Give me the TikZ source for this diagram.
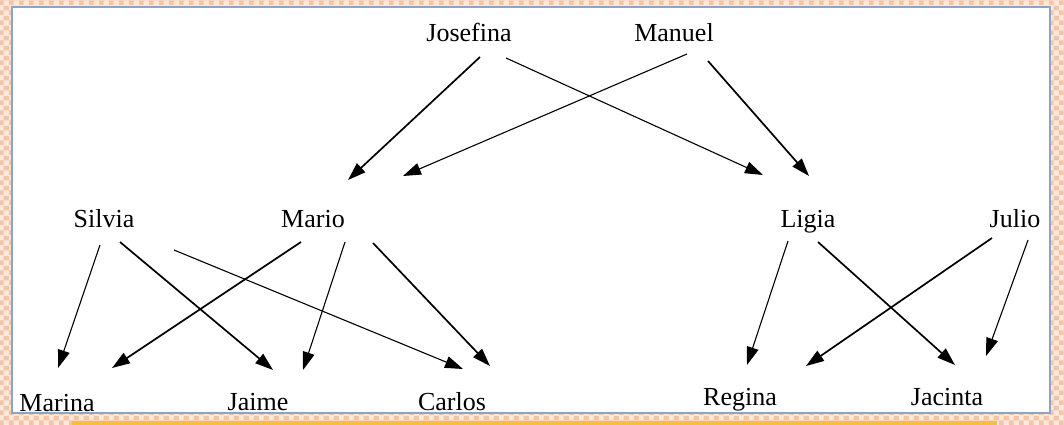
\documentclass[tikz,border=0pt]{standalone}
\usepackage{fontspec}
\setmainfont{Liberation Serif}
\usetikzlibrary{arrows.meta,patterns.meta}
\definecolor{peach}{HTML}{F4C4A6}
\definecolor{peachlight}{HTML}{FCE8DC}
\definecolor{frameblue}{HTML}{8FA3C4}
\definecolor{gold}{HTML}{F5C040}
\tikzdeclarepattern{
  name=peachcheck,
  type=colored,
  bounding box={(0pt,0pt) and (10pt,10pt)},
  tile size={(10pt,10pt)},
  code={
    \fill[peach] (0pt,0pt) rectangle (5pt,5pt);
    \fill[peach] (5pt,5pt) rectangle (10pt,10pt);
  }
}
\begin{document}
\begin{tikzpicture}[x=1pt,y=-1pt,
  person/.style={font=\fontsize{26}{30}\selectfont, anchor=base, inner sep=0pt},
  link/.style={-{Triangle[length=18pt,width=12pt]}, line width=1.1pt},
  boldlink/.style={-{Triangle[length=18pt,width=12pt]}, line width=1.7pt}]
\useasboundingbox (0,0) rectangle (1064,425);
% frame
\fill[peachlight] (0,0) rectangle (1064,425);
\fill[pattern=peachcheck] (0,0) rectangle (1064,425);
\fill[white] (12,7) rectangle (1050,413);
\draw[frameblue, line width=1.2pt] (12,7) rectangle (1050,413);
\fill[gold] (72,421) rectangle (997,425);
% people
\node[person] (Jo) at (469,42) {Josefina};
\node[person] (Ma) at (674,42) {Manuel};
\node[person] (Si) at (104,227) {Silvia};
\node[person] (Mr) at (313,227) {Mario};
\node[person] (Li) at (808,227) {Ligia};
\node[person] (Ju) at (1015,227) {Julio};
\node[person] (Mn) at (57,411) {Marina};
\node[person] (Ja) at (258,410) {Jaime};
\node[person] (Ca) at (452,410) {Carlos};
\node[person] (Re) at (740,405) {Regina};
\node[person] (Jc) at (947,405) {Jacinta};
% links
\draw[boldlink] ([shift={(11,15)}]Jo.base) -- ([shift={(35,-47)}]Mr.base);
\draw[link] ([shift={(37,16)}]Jo.base) -- ([shift={(-45,-52)}]Li.base);
\draw[link] ([shift={(13,12)}]Ma.base) -- ([shift={(90,-51)}]Mr.base);
\draw[boldlink] ([shift={(34,19)}]Ma.base) -- ([shift={(1,-51)}]Li.base);
\draw[link] ([shift={(-4,18)}]Si.base) -- ([shift={(1,-43)}]Mn.base);
\draw[boldlink] ([shift={(16,15)}]Si.base) -- ([shift={(15,-40)}]Ja.base);
\draw[link] ([shift={(70,23)}]Si.base) -- ([shift={(11,-41)}]Ca.base);
\draw[boldlink] ([shift={(-12,15)}]Mr.base) -- ([shift={(55,-43)}]Mn.base);
\draw[link] ([shift={(32,15)}]Mr.base) -- ([shift={(45,-40)}]Ja.base);
\draw[boldlink] ([shift={(60,16)}]Mr.base) -- ([shift={(38,-44)}]Ca.base);
\draw[link] ([shift={(-20,14)}]Li.base) -- ([shift={(7,-40)}]Re.base);
\draw[boldlink] ([shift={(10,15)}]Li.base) -- ([shift={(8,-40)}]Jc.base);
\draw[boldlink] ([shift={(-23,11)}]Ju.base) -- ([shift={(66,-39)}]Re.base);
\draw[link] ([shift={(13,13)}]Ju.base) -- ([shift={(39,-49)}]Jc.base);
\end{tikzpicture}
\end{document}
